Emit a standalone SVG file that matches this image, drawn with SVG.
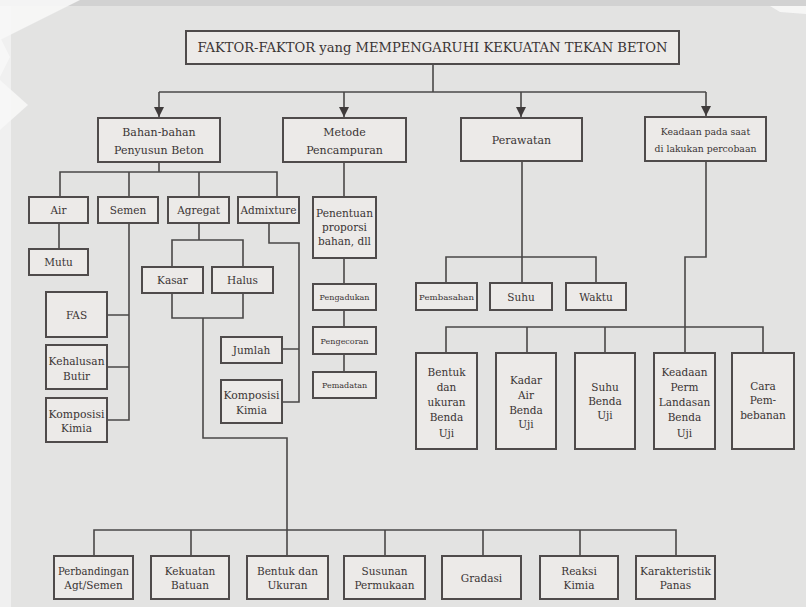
<svg xmlns="http://www.w3.org/2000/svg" width="806" height="607" viewBox="0 0 806 607">
<defs>
<style>
.bg{fill:#e3e3e2}
.box{fill:#eceae8;stroke:#4f4b4b;stroke-width:2}
.ln{fill:none;stroke:#4a4848;stroke-width:1.6}
text{font-size:10.5px;fill:#3a3434;text-anchor:middle}
.l2{font-size:11px}
.sm{font-size:8px}
.md{font-size:9.3px}
.tt{font-size:12px}
</style>
<marker id="ah" viewBox="0 0 10 10" refX="10" refY="5" markerWidth="10" markerHeight="10" markerUnits="userSpaceOnUse" orient="auto">
<path d="M0,0 L10,5 L0,10 z" fill="#3f3b3b"/>
</marker>
</defs>
<rect class="bg" x="0" y="0" width="806" height="607"/>
<rect x="0" y="0" width="11" height="607" fill="#f0f0f0"/>
<rect x="0" y="0" width="806" height="6" fill="#d2d2d2"/>
<polygon points="0,0 80,0 0,40" fill="#f7f7f7" opacity="0.9"/>
<polygon points="0,37 10,57 0,77" fill="#f7f7f7" opacity="0.9"/>
<polygon points="0,80 28,105 0,130" fill="#f7f7f7" opacity="0.9"/>
<polygon points="770,6 806,6 806,14 780,12" fill="#f7f7f7" opacity="0.9"/>

<g id="connectors">
<path class="ln" d="M433,64 V92"/>
<path class="ln" d="M159,92 H706"/>
<path class="ln" d="M159,92 V117" marker-end="url(#ah)"/>
<path class="ln" d="M344,92 V117" marker-end="url(#ah)"/>
<path class="ln" d="M521,92 V117" marker-end="url(#ah)"/>
<path class="ln" d="M706,92 V116" marker-end="url(#ah)"/>
<path class="ln" d="M159,162 V172 M60,197 V172 H277 V197 M129,172 V197 M199,172 V197"/>
<path class="ln" d="M59,223 V249"/>
<path class="ln" d="M129,223 V420 H107 M107,315 H129 M107,367 H129"/>
<path class="ln" d="M199,223 V240 M172,267 V240 H243 V267"/>
<path class="ln" d="M172,293 V318 H243 V293 M203,318 V438 H287 V556"/>
<path class="ln" d="M269,223 V243 H299 V402 H282 M282,349 H299"/>
<path class="ln" d="M344,162 V197 M344,258 V284 M344,310 V327 M344,354 V372"/>
<path class="ln" d="M94,556 V530 H676 V556 M191,530 V556 M385,530 V556 M483,530 V556 M580,530 V556"/>
<path class="ln" d="M522,161 V283 M446,283 V257 H596 V283"/>
<path class="ln" d="M706,161 V257 H685 V353 M446,353 V327 H763 V353 M527,327 V353 M605,327 V353"/>
</g>

<g font-family="DejaVu Serif">
<g id="n-title"><rect class="box" x="186" y="31" width="493" height="33"/><text class="tt" x="432.5" y="52" textLength="470" lengthAdjust="spacingAndGlyphs">FAKTOR-FAKTOR yang MEMPENGARUHI KEKUATAN TEKAN BETON</text></g>

<g id="n-bahan"><rect class="box" x="98" y="118" width="122" height="44"/><text class="l2" x="159" y="136">Bahan-bahan</text><text class="l2" x="159" y="154">Penyusun Beton</text></g>
<g id="n-metode"><rect class="box" x="283" y="118" width="123" height="44"/><text class="l2" x="344.5" y="136">Metode</text><text class="l2" x="344.5" y="154">Pencampuran</text></g>
<g id="n-perawatan"><rect class="box" x="461" y="118" width="121" height="43"/><text class="l2" x="521.5" y="144">Perawatan</text></g>
<g id="n-keadaan"><rect class="box" x="645" y="117" width="121" height="44"/><text class="md" x="705.5" y="135">Keadaan pada saat</text><text class="md" x="705.5" y="152">di lakukan percobaan</text></g>

<g id="n-air"><rect class="box" x="29" y="197" width="59" height="26"/><text x="58.5" y="214">Air</text></g>
<g id="n-semen"><rect class="box" x="98" y="197" width="60" height="26"/><text x="128" y="214">Semen</text></g>
<g id="n-agregat"><rect class="box" x="168" y="197" width="61" height="26"/><text x="198.5" y="214">Agregat</text></g>
<g id="n-admixture"><rect class="box" x="238" y="197" width="61" height="26"/><text x="268.5" y="214" textLength="56" lengthAdjust="spacingAndGlyphs">Admixture</text></g>
<g id="n-penentuan"><rect class="box" x="313" y="197" width="63" height="61"/><text x="344.5" y="217" textLength="57" lengthAdjust="spacingAndGlyphs">Penentuan</text><text x="344.5" y="231">proporsi</text><text x="344.5" y="245">bahan, dll</text></g>

<g id="n-mutu"><rect class="box" x="29" y="249" width="59" height="26"/><text x="58.5" y="266">Mutu</text></g>
<g id="n-fas"><rect class="box" x="46" y="292" width="61" height="45"/><text x="76.5" y="319">FAS</text></g>
<g id="n-kehalusan"><rect class="box" x="46" y="345" width="61" height="44"/><text x="76.5" y="365" textLength="56" lengthAdjust="spacingAndGlyphs">Kehalusan</text><text x="76.5" y="380">Butir</text></g>
<g id="n-komposisi1"><rect class="box" x="46" y="398" width="61" height="44"/><text x="76.5" y="418" textLength="56" lengthAdjust="spacingAndGlyphs">Komposisi</text><text x="76.5" y="432">Kimia</text></g>

<g id="n-kasar"><rect class="box" x="142" y="267" width="61" height="26"/><text x="172.5" y="284">Kasar</text></g>
<g id="n-halus"><rect class="box" x="212" y="267" width="61" height="26"/><text x="242.5" y="284">Halus</text></g>
<g id="n-jumlah"><rect class="box" x="221" y="337" width="61" height="26"/><text x="251.5" y="354">Jumlah</text></g>
<g id="n-komposisi2"><rect class="box" x="221" y="380" width="61" height="43"/><text x="251.5" y="399" textLength="56" lengthAdjust="spacingAndGlyphs">Komposisi</text><text x="251.5" y="414">Kimia</text></g>

<g id="n-pengadukan"><rect class="box" x="313" y="284" width="63" height="26"/><text class="sm" x="344.5" y="300">Pengadukan</text></g>
<g id="n-pengecoran"><rect class="box" x="313" y="327" width="63" height="27"/><text class="sm" x="344.5" y="344">Pengecoran</text></g>
<g id="n-pemadatan"><rect class="box" x="313" y="372" width="63" height="26"/><text class="sm" x="344.5" y="388">Pemadatan</text></g>

<g id="n-pembasahan"><rect class="box" x="416" y="283" width="61" height="27"/><text class="sm" x="446.5" y="300" textLength="55" lengthAdjust="spacingAndGlyphs">Pembasahan</text></g>
<g id="n-suhu"><rect class="box" x="490" y="283" width="62" height="27"/><text x="521" y="301">Suhu</text></g>
<g id="n-waktu"><rect class="box" x="566" y="283" width="60" height="27"/><text x="596" y="301">Waktu</text></g>

<g id="n-bentukuji"><rect class="box" x="416" y="353" width="61" height="96"/><text x="446.5" y="376">Bentuk</text><text x="446.5" y="391">dan</text><text x="446.5" y="406">ukuran</text><text x="446.5" y="421">Benda</text><text x="446.5" y="437">Uji</text></g>
<g id="n-kadar"><rect class="box" x="496" y="353" width="60" height="96"/><text x="526" y="384">Kadar</text><text x="526" y="399">Air</text><text x="526" y="414">Benda</text><text x="526" y="428">Uji</text></g>
<g id="n-suhuuji"><rect class="box" x="575" y="353" width="60" height="96"/><text x="605" y="391">Suhu</text><text x="605" y="405">Benda</text><text x="605" y="419">Uji</text></g>
<g id="n-keadaanperm"><rect class="box" x="654" y="353" width="61" height="96"/><text x="684.5" y="376">Keadaan</text><text x="684.5" y="391">Perm</text><text x="684.5" y="406">Landasan</text><text x="684.5" y="421">Benda</text><text x="684.5" y="437">Uji</text></g>
<g id="n-cara"><rect class="box" x="732" y="353" width="62" height="96"/><text x="763" y="390">Cara</text><text x="763" y="404">Pem-</text><text x="763" y="419">bebanan</text></g>

<g id="n-perbandingan"><rect class="box" x="54" y="556" width="79" height="43"/><text x="93.5" y="575" textLength="71" lengthAdjust="spacingAndGlyphs">Perbandingan</text><text x="93.5" y="589">Agt/Semen</text></g>
<g id="n-kekuatan"><rect class="box" x="151" y="556" width="78" height="43"/><text x="190" y="575">Kekuatan</text><text x="190" y="589">Batuan</text></g>
<g id="n-bentukukuran"><rect class="box" x="247" y="556" width="81" height="43"/><text x="287.5" y="575">Bentuk dan</text><text x="287.5" y="589">Ukuran</text></g>
<g id="n-susunan"><rect class="box" x="344" y="556" width="81" height="43"/><text x="384.5" y="575">Susunan</text><text x="384.5" y="589">Permukaan</text></g>
<g id="n-gradasi"><rect class="box" x="442" y="556" width="79" height="43"/><text x="481.5" y="582">Gradasi</text></g>
<g id="n-reaksi"><rect class="box" x="540" y="556" width="78" height="43"/><text x="579" y="575">Reaksi</text><text x="579" y="589">Kimia</text></g>
<g id="n-karakteristik"><rect class="box" x="636" y="556" width="79" height="43"/><text x="675.5" y="575" textLength="71" lengthAdjust="spacingAndGlyphs">Karakteristik</text><text x="675.5" y="589">Panas</text></g>
</g>
</svg>
